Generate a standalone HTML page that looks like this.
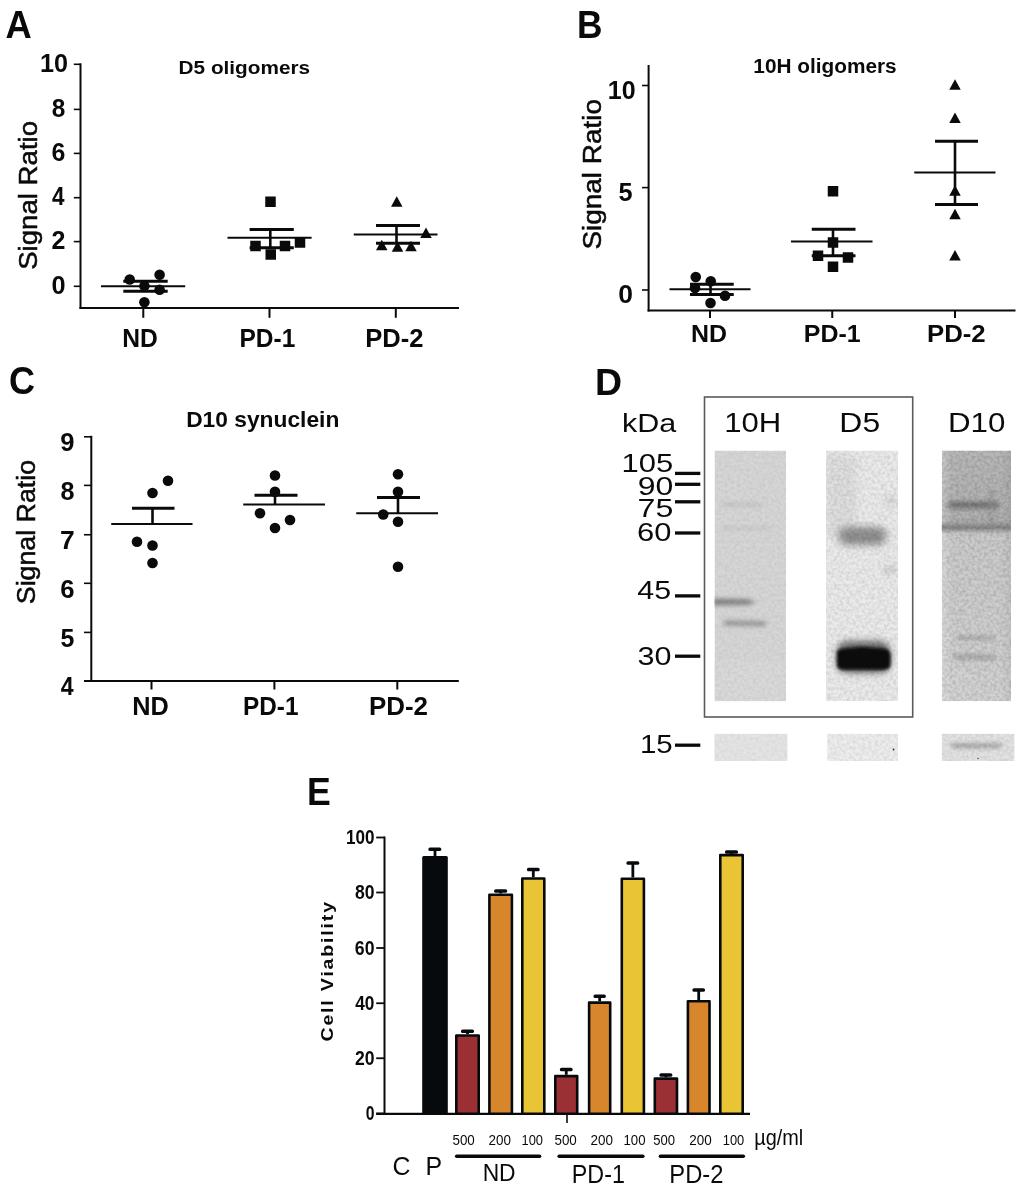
<!DOCTYPE html><html><head><meta charset="utf-8"><style>html,body{margin:0;padding:0;background:#fff;}svg{display:block;will-change:transform;} text{font-family:"Liberation Sans",sans-serif;}</style></head><body>
<svg width="1024" height="1191" viewBox="0 0 1024 1191">
<rect width="1024" height="1191" fill="#fff"/>
<text x="5.49" y="37.90" font-size="38.8" font-weight="bold" textLength="26.26" lengthAdjust="spacingAndGlyphs" fill="#0a0a0a" >A</text>
<text x="178.61" y="74.20" font-size="19.2" font-weight="bold" textLength="131.44" lengthAdjust="spacingAndGlyphs" fill="#0a0a0a" >D5 oligomers</text>
<text transform="translate(36.50,268.60) rotate(-90)" x="-1.25" y="0" font-size="26" font-weight="normal" textLength="148.91" lengthAdjust="spacingAndGlyphs" fill="#0a0a0a" stroke="#0a0a0a" stroke-width="0.5">Signal Ratio</text>
<line x1="80.5" y1="63.3" x2="80.5" y2="308.9" stroke="#0a0a0a" stroke-width="2" stroke-linecap="butt"/>
<line x1="73.8" y1="64.3" x2="80.5" y2="64.3" stroke="#0a0a0a" stroke-width="1.6" stroke-linecap="butt"/>
<text x="39.91" y="71.60" font-size="26" font-weight="bold" textLength="28.02" lengthAdjust="spacingAndGlyphs" fill="#0a0a0a" >10</text>
<line x1="73.8" y1="109.4" x2="80.5" y2="109.4" stroke="#0a0a0a" stroke-width="1.6" stroke-linecap="butt"/>
<text x="51.68" y="116.70" font-size="26" font-weight="bold" textLength="13.58" lengthAdjust="spacingAndGlyphs" fill="#0a0a0a" >8</text>
<line x1="73.8" y1="153.4" x2="80.5" y2="153.4" stroke="#0a0a0a" stroke-width="1.6" stroke-linecap="butt"/>
<text x="51.54" y="160.70" font-size="26" font-weight="bold" textLength="13.86" lengthAdjust="spacingAndGlyphs" fill="#0a0a0a" >6</text>
<line x1="73.8" y1="197.7" x2="80.5" y2="197.7" stroke="#0a0a0a" stroke-width="1.6" stroke-linecap="butt"/>
<text x="52.11" y="205.00" font-size="26" font-weight="bold" textLength="12.51" lengthAdjust="spacingAndGlyphs" fill="#0a0a0a" >4</text>
<line x1="73.8" y1="241.6" x2="80.5" y2="241.6" stroke="#0a0a0a" stroke-width="1.6" stroke-linecap="butt"/>
<text x="51.58" y="248.90" font-size="26" font-weight="bold" textLength="13.92" lengthAdjust="spacingAndGlyphs" fill="#0a0a0a" >2</text>
<line x1="73.8" y1="286.3" x2="80.5" y2="286.3" stroke="#0a0a0a" stroke-width="1.6" stroke-linecap="butt"/>
<text x="51.45" y="293.60" font-size="26" font-weight="bold" textLength="14.09" lengthAdjust="spacingAndGlyphs" fill="#0a0a0a" >0</text>
<line x1="79.5" y1="308" x2="459" y2="308" stroke="#0a0a0a" stroke-width="1.9" stroke-linecap="butt"/>
<line x1="143.3" y1="308" x2="143.3" y2="317.8" stroke="#0a0a0a" stroke-width="2" stroke-linecap="butt"/>
<line x1="269.5" y1="308" x2="269.5" y2="317.8" stroke="#0a0a0a" stroke-width="2" stroke-linecap="butt"/>
<line x1="395.8" y1="308" x2="395.8" y2="317.8" stroke="#0a0a0a" stroke-width="2" stroke-linecap="butt"/>
<text x="122.25" y="346.50" font-size="25" font-weight="bold" textLength="35.53" lengthAdjust="spacingAndGlyphs" fill="#0a0a0a" >ND</text>
<text x="239.56" y="346.50" font-size="25" font-weight="bold" textLength="55.72" lengthAdjust="spacingAndGlyphs" fill="#0a0a0a" >PD-1</text>
<text x="365.29" y="346.50" font-size="25" font-weight="bold" textLength="58.23" lengthAdjust="spacingAndGlyphs" fill="#0a0a0a" >PD-2</text>
<line x1="101" y1="286.3" x2="185.2" y2="286.3" stroke="#0a0a0a" stroke-width="2" stroke-linecap="butt"/>
<line x1="123.3" y1="281.2" x2="167.7" y2="281.2" stroke="#0a0a0a" stroke-width="3" stroke-linecap="butt"/>
<line x1="123.3" y1="291.2" x2="167.7" y2="291.2" stroke="#0a0a0a" stroke-width="3" stroke-linecap="butt"/>
<line x1="144.4" y1="281.2" x2="144.4" y2="291.2" stroke="#0a0a0a" stroke-width="2.6" stroke-linecap="butt"/>
<circle cx="129.7" cy="279.5" r="5.3" fill="#0a0a0a"/>
<circle cx="159.6" cy="274.7" r="5.3" fill="#0a0a0a"/>
<circle cx="144.4" cy="286.1" r="5.3" fill="#0a0a0a"/>
<circle cx="159.6" cy="289.8" r="5.3" fill="#0a0a0a"/>
<circle cx="144.4" cy="302.3" r="5.3" fill="#0a0a0a"/>
<line x1="227.5" y1="237.7" x2="311.6" y2="237.7" stroke="#0a0a0a" stroke-width="2" stroke-linecap="butt"/>
<line x1="249.6" y1="229.4" x2="293.8" y2="229.4" stroke="#0a0a0a" stroke-width="3" stroke-linecap="butt"/>
<line x1="249.6" y1="247.7" x2="293.8" y2="247.7" stroke="#0a0a0a" stroke-width="3" stroke-linecap="butt"/>
<line x1="270.3" y1="229.4" x2="270.3" y2="247.7" stroke="#0a0a0a" stroke-width="2.6" stroke-linecap="butt"/>
<rect x="265.25" y="196.50" width="10.5" height="10.5" fill="#0a0a0a"/>
<rect x="250.25" y="240.75" width="10.5" height="10.5" fill="#0a0a0a"/>
<rect x="265.50" y="249.25" width="10.5" height="10.5" fill="#0a0a0a"/>
<rect x="279.75" y="240.75" width="10.5" height="10.5" fill="#0a0a0a"/>
<rect x="294.75" y="237.25" width="10.5" height="10.5" fill="#0a0a0a"/>
<line x1="353.75" y1="234.5" x2="437.5" y2="234.5" stroke="#0a0a0a" stroke-width="2" stroke-linecap="butt"/>
<line x1="376" y1="225.5" x2="420" y2="225.5" stroke="#0a0a0a" stroke-width="3" stroke-linecap="butt"/>
<line x1="376" y1="243.25" x2="420" y2="243.25" stroke="#0a0a0a" stroke-width="3" stroke-linecap="butt"/>
<line x1="396.5" y1="225.5" x2="396.5" y2="243.25" stroke="#0a0a0a" stroke-width="2.6" stroke-linecap="butt"/>
<path d="M396.75,196.29 L402.50,206.64 L391.00,206.64Z" fill="#0a0a0a"/>
<path d="M426.00,227.54 L431.75,237.89 L420.25,237.89Z" fill="#0a0a0a"/>
<path d="M381.75,239.79 L387.50,250.14 L376.00,250.14Z" fill="#0a0a0a"/>
<path d="M397.50,241.29 L403.25,251.64 L391.75,251.64Z" fill="#0a0a0a"/>
<path d="M411.00,240.79 L416.75,251.14 L405.25,251.14Z" fill="#0a0a0a"/>
<text x="577.09" y="37.90" font-size="38.8" font-weight="bold" textLength="25.52" lengthAdjust="spacingAndGlyphs" fill="#0a0a0a" >B</text>
<text x="753.39" y="73.40" font-size="20.3" font-weight="bold" textLength="143.26" lengthAdjust="spacingAndGlyphs" fill="#0a0a0a" >10H oligomers</text>
<text transform="translate(600.50,248.30) rotate(-90)" x="-1.27" y="0" font-size="25.7" font-weight="normal" textLength="150.54" lengthAdjust="spacingAndGlyphs" fill="#0a0a0a" stroke="#0a0a0a" stroke-width="0.5">Signal Ratio</text>
<line x1="648.6" y1="65" x2="648.6" y2="311.5" stroke="#0a0a0a" stroke-width="2" stroke-linecap="butt"/>
<line x1="642" y1="85.5" x2="648.6" y2="85.5" stroke="#0a0a0a" stroke-width="1.6" stroke-linecap="butt"/>
<line x1="642" y1="187.6" x2="648.6" y2="187.6" stroke="#0a0a0a" stroke-width="1.6" stroke-linecap="butt"/>
<line x1="642" y1="290" x2="648.6" y2="290" stroke="#0a0a0a" stroke-width="1.6" stroke-linecap="butt"/>
<text x="607.83" y="98.70" font-size="26" font-weight="bold" textLength="27.80" lengthAdjust="spacingAndGlyphs" fill="#0a0a0a" >10</text>
<text x="618.52" y="200.60" font-size="26" font-weight="bold" textLength="14.08" lengthAdjust="spacingAndGlyphs" fill="#0a0a0a" >5</text>
<text x="618.25" y="303.10" font-size="26" font-weight="bold" textLength="14.73" lengthAdjust="spacingAndGlyphs" fill="#0a0a0a" >0</text>
<line x1="647.6" y1="310.5" x2="1015.5" y2="310.5" stroke="#0a0a0a" stroke-width="1.9" stroke-linecap="butt"/>
<line x1="710" y1="310.5" x2="710" y2="318" stroke="#0a0a0a" stroke-width="2" stroke-linecap="butt"/>
<line x1="832.25" y1="310.5" x2="832.25" y2="318" stroke="#0a0a0a" stroke-width="2" stroke-linecap="butt"/>
<line x1="955" y1="310.5" x2="955" y2="318" stroke="#0a0a0a" stroke-width="2" stroke-linecap="butt"/>
<text x="690.93" y="342.20" font-size="24.1" font-weight="bold" textLength="36.02" lengthAdjust="spacingAndGlyphs" fill="#0a0a0a" >ND</text>
<text x="803.83" y="342.20" font-size="24.1" font-weight="bold" textLength="56.86" lengthAdjust="spacingAndGlyphs" fill="#0a0a0a" >PD-1</text>
<text x="926.97" y="342.20" font-size="24.1" font-weight="bold" textLength="58.76" lengthAdjust="spacingAndGlyphs" fill="#0a0a0a" >PD-2</text>
<line x1="669.5" y1="289.25" x2="750.5" y2="289.25" stroke="#0a0a0a" stroke-width="2" stroke-linecap="butt"/>
<line x1="690" y1="284.25" x2="733.75" y2="284.25" stroke="#0a0a0a" stroke-width="3" stroke-linecap="butt"/>
<line x1="690" y1="294.5" x2="733.75" y2="294.5" stroke="#0a0a0a" stroke-width="3" stroke-linecap="butt"/>
<line x1="710.5" y1="284.25" x2="710.5" y2="294.5" stroke="#0a0a0a" stroke-width="2.6" stroke-linecap="butt"/>
<circle cx="695.75" cy="277" r="5.3" fill="#0a0a0a"/>
<circle cx="710.75" cy="281.25" r="5.3" fill="#0a0a0a"/>
<circle cx="695" cy="288" r="5.3" fill="#0a0a0a"/>
<circle cx="725" cy="295.75" r="5.3" fill="#0a0a0a"/>
<circle cx="710.5" cy="303" r="5.3" fill="#0a0a0a"/>
<line x1="791" y1="241.5" x2="872.5" y2="241.5" stroke="#0a0a0a" stroke-width="2" stroke-linecap="butt"/>
<line x1="811.75" y1="229.25" x2="855.5" y2="229.25" stroke="#0a0a0a" stroke-width="3" stroke-linecap="butt"/>
<line x1="811.75" y1="255.75" x2="855.5" y2="255.75" stroke="#0a0a0a" stroke-width="3" stroke-linecap="butt"/>
<line x1="833" y1="229.25" x2="833" y2="255.75" stroke="#0a0a0a" stroke-width="2.6" stroke-linecap="butt"/>
<rect x="827.75" y="186.00" width="10.5" height="10.5" fill="#0a0a0a"/>
<rect x="827.75" y="237.25" width="10.5" height="10.5" fill="#0a0a0a"/>
<rect x="812.75" y="250.50" width="10.5" height="10.5" fill="#0a0a0a"/>
<rect x="842.75" y="252.25" width="10.5" height="10.5" fill="#0a0a0a"/>
<rect x="827.75" y="261.50" width="10.5" height="10.5" fill="#0a0a0a"/>
<line x1="914.25" y1="172.5" x2="995.5" y2="172.5" stroke="#0a0a0a" stroke-width="2" stroke-linecap="butt"/>
<line x1="935" y1="141.25" x2="978" y2="141.25" stroke="#0a0a0a" stroke-width="3" stroke-linecap="butt"/>
<line x1="935" y1="204.5" x2="978" y2="204.5" stroke="#0a0a0a" stroke-width="3" stroke-linecap="butt"/>
<line x1="955" y1="141.25" x2="955" y2="204.5" stroke="#0a0a0a" stroke-width="2.6" stroke-linecap="butt"/>
<path d="M955.00,79.29 L960.75,89.64 L949.25,89.64Z" fill="#0a0a0a"/>
<path d="M955.00,112.54 L960.75,122.89 L949.25,122.89Z" fill="#0a0a0a"/>
<path d="M955.00,185.29 L960.75,195.64 L949.25,195.64Z" fill="#0a0a0a"/>
<path d="M955.00,208.79 L960.75,219.14 L949.25,219.14Z" fill="#0a0a0a"/>
<path d="M955.00,250.04 L960.75,260.39 L949.25,260.39Z" fill="#0a0a0a"/>
<text x="9.02" y="394.40" font-size="37.9" font-weight="bold" textLength="26.01" lengthAdjust="spacingAndGlyphs" fill="#0a0a0a" >C</text>
<text x="186.18" y="427.40" font-size="22.2" font-weight="bold" textLength="153.14" lengthAdjust="spacingAndGlyphs" fill="#0a0a0a" >D10 synuclein</text>
<text transform="translate(34.90,603.00) rotate(-90)" x="-1.21" y="0" font-size="25" font-weight="normal" textLength="144.24" lengthAdjust="spacingAndGlyphs" fill="#0a0a0a" stroke="#0a0a0a" stroke-width="0.5">Signal Ratio</text>
<line x1="91.3" y1="435.8" x2="91.3" y2="682" stroke="#0a0a0a" stroke-width="2" stroke-linecap="butt"/>
<line x1="84" y1="436.8" x2="91.3" y2="436.8" stroke="#0a0a0a" stroke-width="1.6" stroke-linecap="butt"/>
<text x="60.31" y="451.00" font-size="25.7" font-weight="bold" textLength="14.24" lengthAdjust="spacingAndGlyphs" fill="#0a0a0a" >9</text>
<line x1="84" y1="485.4" x2="91.3" y2="485.4" stroke="#0a0a0a" stroke-width="1.6" stroke-linecap="butt"/>
<text x="60.40" y="499.60" font-size="25.7" font-weight="bold" textLength="13.97" lengthAdjust="spacingAndGlyphs" fill="#0a0a0a" >8</text>
<line x1="84" y1="534.75" x2="91.3" y2="534.75" stroke="#0a0a0a" stroke-width="1.6" stroke-linecap="butt"/>
<text x="60.06" y="548.95" font-size="25.7" font-weight="bold" textLength="14.70" lengthAdjust="spacingAndGlyphs" fill="#0a0a0a" >7</text>
<line x1="84" y1="583.3" x2="91.3" y2="583.3" stroke="#0a0a0a" stroke-width="1.6" stroke-linecap="butt"/>
<text x="60.26" y="597.50" font-size="25.7" font-weight="bold" textLength="14.27" lengthAdjust="spacingAndGlyphs" fill="#0a0a0a" >6</text>
<line x1="84" y1="632.4" x2="91.3" y2="632.4" stroke="#0a0a0a" stroke-width="1.6" stroke-linecap="butt"/>
<text x="60.43" y="646.60" font-size="25.7" font-weight="bold" textLength="13.86" lengthAdjust="spacingAndGlyphs" fill="#0a0a0a" >5</text>
<line x1="84" y1="681" x2="91.3" y2="681" stroke="#0a0a0a" stroke-width="1.6" stroke-linecap="butt"/>
<text x="60.85" y="695.20" font-size="25.7" font-weight="bold" textLength="12.87" lengthAdjust="spacingAndGlyphs" fill="#0a0a0a" >4</text>
<line x1="84" y1="681" x2="458.8" y2="681" stroke="#0a0a0a" stroke-width="1.9" stroke-linecap="butt"/>
<line x1="151.5" y1="681" x2="151.5" y2="689.5" stroke="#0a0a0a" stroke-width="2" stroke-linecap="butt"/>
<line x1="274.4" y1="681" x2="274.4" y2="689.5" stroke="#0a0a0a" stroke-width="2" stroke-linecap="butt"/>
<line x1="397.3" y1="681" x2="397.3" y2="689.5" stroke="#0a0a0a" stroke-width="2" stroke-linecap="butt"/>
<text x="132.31" y="715.30" font-size="25.9" font-weight="bold" textLength="36.56" lengthAdjust="spacingAndGlyphs" fill="#0a0a0a" >ND</text>
<text x="243.07" y="715.30" font-size="25.9" font-weight="bold" textLength="55.40" lengthAdjust="spacingAndGlyphs" fill="#0a0a0a" >PD-1</text>
<text x="368.97" y="715.30" font-size="25.9" font-weight="bold" textLength="59.07" lengthAdjust="spacingAndGlyphs" fill="#0a0a0a" >PD-2</text>
<line x1="111.25" y1="524" x2="192.5" y2="524" stroke="#0a0a0a" stroke-width="2" stroke-linecap="butt"/>
<line x1="132" y1="508.25" x2="174.5" y2="508.25" stroke="#0a0a0a" stroke-width="3" stroke-linecap="butt"/>
<line x1="152.5" y1="508.25" x2="152.5" y2="524" stroke="#0a0a0a" stroke-width="2.6" stroke-linecap="butt"/>
<circle cx="168" cy="480.75" r="5.3" fill="#0a0a0a"/>
<circle cx="152.5" cy="493" r="5.3" fill="#0a0a0a"/>
<circle cx="137" cy="541.75" r="5.3" fill="#0a0a0a"/>
<circle cx="152.5" cy="545.5" r="5.3" fill="#0a0a0a"/>
<circle cx="152.5" cy="563" r="5.3" fill="#0a0a0a"/>
<line x1="243.25" y1="504.5" x2="325" y2="504.5" stroke="#0a0a0a" stroke-width="2" stroke-linecap="butt"/>
<line x1="254.5" y1="495.25" x2="297.5" y2="495.25" stroke="#0a0a0a" stroke-width="3" stroke-linecap="butt"/>
<line x1="275" y1="495.25" x2="275" y2="504.5" stroke="#0a0a0a" stroke-width="2.6" stroke-linecap="butt"/>
<circle cx="275" cy="475.5" r="5.3" fill="#0a0a0a"/>
<circle cx="275" cy="491.75" r="5.3" fill="#0a0a0a"/>
<circle cx="260" cy="513.25" r="5.3" fill="#0a0a0a"/>
<circle cx="290" cy="520" r="5.3" fill="#0a0a0a"/>
<circle cx="275" cy="528" r="5.3" fill="#0a0a0a"/>
<line x1="356.25" y1="513.25" x2="438" y2="513.25" stroke="#0a0a0a" stroke-width="2" stroke-linecap="butt"/>
<line x1="377" y1="497.5" x2="420" y2="497.5" stroke="#0a0a0a" stroke-width="3" stroke-linecap="butt"/>
<line x1="398" y1="497.5" x2="398" y2="513.25" stroke="#0a0a0a" stroke-width="2.6" stroke-linecap="butt"/>
<circle cx="398" cy="474.25" r="5.3" fill="#0a0a0a"/>
<circle cx="398" cy="491.75" r="5.3" fill="#0a0a0a"/>
<circle cx="383.25" cy="514.5" r="5.3" fill="#0a0a0a"/>
<circle cx="398" cy="521.75" r="5.3" fill="#0a0a0a"/>
<circle cx="398" cy="566.75" r="5.3" fill="#0a0a0a"/>
<text x="594.99" y="395.00" font-size="37" font-weight="bold" textLength="27.08" lengthAdjust="spacingAndGlyphs" fill="#0a0a0a" >D</text>
<rect x="704.5" y="397" width="208.2" height="320" fill="none" stroke="#5a5a5a" stroke-width="1.6"/>
<text x="621.94" y="432.20" font-size="26" font-weight="normal" textLength="54.26" lengthAdjust="spacingAndGlyphs" fill="#0a0a0a" >kDa</text>
<text x="724.23" y="432.40" font-size="27" font-weight="normal" textLength="57.00" lengthAdjust="spacingAndGlyphs" fill="#0a0a0a" >10H</text>
<text x="839.38" y="432.20" font-size="27" font-weight="normal" textLength="40.75" lengthAdjust="spacingAndGlyphs" fill="#0a0a0a" >D5</text>
<text x="947.93" y="432.20" font-size="27" font-weight="normal" textLength="57.39" lengthAdjust="spacingAndGlyphs" fill="#0a0a0a" >D10</text>
<text x="621.64" y="472.00" font-size="26.5" font-weight="normal" textLength="51.66" lengthAdjust="spacingAndGlyphs" fill="#0a0a0a" >105</text>
<line x1="675" y1="473.4" x2="700.3" y2="473.4" stroke="#0a0a0a" stroke-width="3.3" stroke-linecap="butt"/>
<text x="637.70" y="494.60" font-size="26.5" font-weight="normal" textLength="35.55" lengthAdjust="spacingAndGlyphs" fill="#0a0a0a" >90</text>
<line x1="675" y1="484.3" x2="700.3" y2="484.3" stroke="#0a0a0a" stroke-width="3.3" stroke-linecap="butt"/>
<text x="637.55" y="516.80" font-size="26.5" font-weight="normal" textLength="35.80" lengthAdjust="spacingAndGlyphs" fill="#0a0a0a" >75</text>
<line x1="675" y1="501.8" x2="700.3" y2="501.8" stroke="#0a0a0a" stroke-width="3.3" stroke-linecap="butt"/>
<text x="637.13" y="541.40" font-size="26.5" font-weight="normal" textLength="34.38" lengthAdjust="spacingAndGlyphs" fill="#0a0a0a" >60</text>
<line x1="675" y1="533" x2="700.3" y2="533" stroke="#0a0a0a" stroke-width="3.3" stroke-linecap="butt"/>
<text x="637.30" y="599.40" font-size="26.5" font-weight="normal" textLength="33.77" lengthAdjust="spacingAndGlyphs" fill="#0a0a0a" >45</text>
<line x1="675" y1="595.9" x2="700.3" y2="595.9" stroke="#0a0a0a" stroke-width="3.3" stroke-linecap="butt"/>
<text x="637.54" y="665.10" font-size="26.5" font-weight="normal" textLength="33.96" lengthAdjust="spacingAndGlyphs" fill="#0a0a0a" >30</text>
<line x1="675" y1="656.2" x2="700.3" y2="656.2" stroke="#0a0a0a" stroke-width="3.3" stroke-linecap="butt"/>
<text x="639.96" y="753.00" font-size="26.5" font-weight="normal" textLength="32.78" lengthAdjust="spacingAndGlyphs" fill="#0a0a0a" >15</text>
<line x1="675" y1="745.2" x2="700.3" y2="745.2" stroke="#0a0a0a" stroke-width="3.3" stroke-linecap="butt"/>
<defs>
<filter id="grain" x="0" y="0" width="100%" height="100%"><feTurbulence type="fractalNoise" baseFrequency="0.32" numOctaves="2" seed="7"/><feColorMatrix type="matrix" values="0 0 0 0 0  0 0 0 0 0  0 0 0 0 0  0.5 0 0 0 -0.17"/><feGaussianBlur stdDeviation="0.5"/><feComposite in2="SourceGraphic" operator="in"/></filter>
<filter id="grain2" x="0" y="0" width="100%" height="100%"><feTurbulence type="fractalNoise" baseFrequency="0.08" numOctaves="2" seed="11"/><feColorMatrix type="matrix" values="0 0 0 0 0  0 0 0 0 0  0 0 0 0 0  0.5 0 0 0 -0.2"/><feComposite in2="SourceGraphic" operator="in"/></filter>
<filter id="bb" x="-50%" y="-200%" width="200%" height="500%"><feGaussianBlur stdDeviation="2.5 2.2"/></filter>
<filter id="bc" x="-50%" y="-100%" width="200%" height="300%"><feGaussianBlur stdDeviation="4 3.5"/></filter>
<filter id="bd" x="-50%" y="-100%" width="200%" height="300%"><feGaussianBlur stdDeviation="1.6"/></filter>
<filter id="be" x="-50%" y="-100%" width="200%" height="300%"><feGaussianBlur stdDeviation="3.5"/></filter>
<linearGradient id="g3" x1="0" y1="0" x2="0" y2="1"><stop offset="0" stop-color="#b8b8b8"/><stop offset="0.25" stop-color="#b2b2b2"/><stop offset="0.31" stop-color="#ababab"/><stop offset="0.312" stop-color="#cbcbcb"/><stop offset="0.8" stop-color="#d0d0d0"/><stop offset="1" stop-color="#d3d3d3"/></linearGradient>
<linearGradient id="g3h" x1="0" y1="0" x2="1" y2="0"><stop offset="0" stop-color="#fff" stop-opacity="0.25"/><stop offset="0.15" stop-color="#fff" stop-opacity="0"/><stop offset="0.85" stop-color="#000" stop-opacity="0"/><stop offset="1" stop-color="#000" stop-opacity="0.05"/></linearGradient>
<clipPath id="c1"><rect x="714.5" y="450.5" width="71.5" height="250.8"/></clipPath>
<clipPath id="c2"><rect x="826" y="450.5" width="72.2" height="250.8"/></clipPath>
<clipPath id="c3"><rect x="941.8" y="450.5" width="69.2" height="250.8"/></clipPath>
</defs>
<g clip-path="url(#c1)">
<rect x="714.5" y="450.5" width="71.5" height="250.8" fill="#d6d6d6"/>
<rect x="714.5" y="662" width="71.5" height="40" fill="#dadada" filter="url(#be)" opacity="0.7"/>
<g filter="url(#bb)"><rect x="722" y="503" width="40" height="3" fill="#bdbdbd"/><rect x="722" y="527" width="50" height="3" fill="#c6c6c6"/><path d="M712,598.5 L748,599 L756,602 L748,605 L712,605.5Z" fill="#858585"/><path d="M724,620 L766,621 L766,626.5 L724,626Z" fill="#9c9c9c"/></g>
<rect x="714.5" y="450.5" width="71.5" height="250.8" fill="#000" filter="url(#grain)" opacity="0.25"/>
</g>
<g clip-path="url(#c2)">
<rect x="826" y="450.5" width="72.2" height="250.8" fill="#ebebeb"/>
<rect x="826" y="455" width="30" height="80" fill="#d6d6d6" filter="url(#be)" opacity="0.6"/>
<g filter="url(#bc)"><rect x="839" y="527" width="47" height="18" rx="7" fill="#8f8f8f"/></g>
<g filter="url(#be)"><rect x="886" y="498" width="10" height="6" fill="#c8c8c8"/><rect x="884" y="566" width="12" height="8" fill="#cccccc"/></g>
<g filter="url(#be)"><rect x="837" y="641" width="53" height="32" rx="10" fill="#6a6a6a"/></g>
<g filter="url(#bd)"><path d="M837,652 Q838,648.5 845,648.5 L855,647.5 Q862,645.8 870,647.5 L884,648.5 Q890.5,649 890.5,656 L890.5,664 Q890.5,669.5 884,669.8 L843,669.8 Q837,669.8 837,664Z" fill="#070707"/></g>
<rect x="826" y="450.5" width="72.2" height="250.8" fill="#000" filter="url(#grain)" opacity="0.45"/>
</g>
<g clip-path="url(#c3)">
<rect x="941.8" y="450.5" width="69.2" height="250.8" fill="url(#g3)"/>
<rect x="941.8" y="450.5" width="69.2" height="250.8" fill="url(#g3h)"/>
<g filter="url(#bb)"><rect x="948" y="501.5" width="51" height="7" rx="3" fill="#777"/><rect x="938" y="525" width="76" height="5.5" fill="#808080"/><rect x="989" y="490" width="4.5" height="38" fill="#8f8f8f" opacity="0.6"/><rect x="957" y="636" width="38" height="4" fill="#a9a9a9"/><rect x="954" y="654.5" width="42" height="5" fill="#a6a6a6"/><rect x="944" y="668" width="25" height="30" fill="#d6d6d6" opacity="0.6"/></g>
<rect x="941.8" y="450.5" width="69.2" height="250.8" fill="#000" filter="url(#grain)" opacity="0.6"/>
</g>
<rect x="714.4" y="733.8" width="73" height="27.2" fill="#e4e4e4"/>
<rect x="827.3" y="733.8" width="70.7" height="27.2" fill="#ededed"/>
<rect x="941.8" y="733.8" width="72.6" height="27.2" fill="#e3e3e3"/>
<g filter="url(#bb)"><rect x="952" y="743.5" width="49" height="4.5" fill="#a0a0a0"/></g>
<rect x="714.4" y="733.8" width="73" height="27.2" fill="#000" filter="url(#grain)" opacity="0.2"/>
<rect x="827.3" y="733.8" width="70.7" height="27.2" fill="#000" filter="url(#grain)" opacity="0.35"/>
<rect x="941.8" y="733.8" width="72.6" height="27.2" fill="#000" filter="url(#grain)" opacity="0.4"/>
<circle cx="893.5" cy="749.5" r="0.9" fill="#333"/>
<circle cx="978" cy="758.5" r="0.8" fill="#555"/>
<text x="307.12" y="805.00" font-size="39" font-weight="bold" textLength="23.78" lengthAdjust="spacingAndGlyphs" fill="#0a0a0a" >E</text>
<text transform="translate(332.9,1040.7) rotate(-90) scale(1.17,1)" x="-0.68" y="0" font-size="16.7" font-weight="bold" textLength="119.24" lengthAdjust="spacing" fill="#0a0a0a">Cell Viability</text>
<line x1="384.5" y1="836.5" x2="384.5" y2="1114.5" stroke="#0a0a0a" stroke-width="2" stroke-linecap="butt"/>
<line x1="376.2" y1="837.5" x2="384.5" y2="837.5" stroke="#0a0a0a" stroke-width="1.8" stroke-linecap="butt"/>
<text x="345.92" y="844.30" font-size="19.6" font-weight="bold" textLength="28.53" lengthAdjust="spacingAndGlyphs" fill="#0a0a0a" >100</text>
<line x1="376.2" y1="892.5" x2="384.5" y2="892.5" stroke="#0a0a0a" stroke-width="1.8" stroke-linecap="butt"/>
<text x="354.94" y="899.30" font-size="19.6" font-weight="bold" textLength="19.53" lengthAdjust="spacingAndGlyphs" fill="#0a0a0a" >80</text>
<line x1="376.2" y1="948" x2="384.5" y2="948" stroke="#0a0a0a" stroke-width="1.8" stroke-linecap="butt"/>
<text x="354.85" y="954.80" font-size="19.6" font-weight="bold" textLength="19.62" lengthAdjust="spacingAndGlyphs" fill="#0a0a0a" >60</text>
<line x1="376.2" y1="1003.25" x2="384.5" y2="1003.25" stroke="#0a0a0a" stroke-width="1.8" stroke-linecap="butt"/>
<text x="355.24" y="1010.05" font-size="19.6" font-weight="bold" textLength="19.22" lengthAdjust="spacingAndGlyphs" fill="#0a0a0a" >40</text>
<line x1="376.2" y1="1058.25" x2="384.5" y2="1058.25" stroke="#0a0a0a" stroke-width="1.8" stroke-linecap="butt"/>
<text x="354.89" y="1065.05" font-size="19.6" font-weight="bold" textLength="19.58" lengthAdjust="spacingAndGlyphs" fill="#0a0a0a" >20</text>
<line x1="376.2" y1="1113.5" x2="384.5" y2="1113.5" stroke="#0a0a0a" stroke-width="1.8" stroke-linecap="butt"/>
<text x="365.63" y="1120.30" font-size="19.6" font-weight="bold" textLength="8.77" lengthAdjust="spacingAndGlyphs" fill="#0a0a0a" >0</text>
<line x1="376.2" y1="1113.8" x2="750" y2="1113.8" stroke="#0a0a0a" stroke-width="2.2" stroke-linecap="butt"/>
<rect x="422.2" y="856.1" width="25.6" height="257.70" rx="1.5" fill="#060a0c"/>
<line x1="435" y1="849" x2="435" y2="857" stroke="#060a0c" stroke-width="2.8" stroke-linecap="butt"/>
<rect x="428.4" y="847.5" width="12.9" height="3.5" rx="1.6" fill="#060a0c"/>
<rect x="456.30" y="1035.50" width="22.40" height="78.30" fill="#9b3034" stroke="#060a0c" stroke-width="2.6" stroke-linejoin="round"/>
<line x1="467.5" y1="1031.2" x2="467.5" y2="1034.2" stroke="#060a0c" stroke-width="2.8" stroke-linecap="butt"/>
<rect x="461.00" y="1029.40" width="13.00" height="3.6" rx="1.6" fill="#060a0c"/>
<rect x="489.40" y="894.80" width="22.50" height="219.00" fill="#d8862c" stroke="#060a0c" stroke-width="2.6" stroke-linejoin="round"/>
<line x1="500.65000000000003" y1="891" x2="500.65000000000003" y2="893.5" stroke="#060a0c" stroke-width="2.8" stroke-linecap="butt"/>
<rect x="494.12" y="889.20" width="13.05" height="3.6" rx="1.6" fill="#060a0c"/>
<rect x="522.30" y="878.50" width="22.00" height="235.30" fill="#e9c535" stroke="#060a0c" stroke-width="2.6" stroke-linejoin="round"/>
<line x1="533.3" y1="869.5" x2="533.3" y2="877.2" stroke="#060a0c" stroke-width="2.8" stroke-linecap="butt"/>
<rect x="526.90" y="867.70" width="12.79" height="3.6" rx="1.6" fill="#060a0c"/>
<rect x="555.30" y="1076.10" width="21.90" height="37.70" fill="#9b3034" stroke="#060a0c" stroke-width="2.6" stroke-linejoin="round"/>
<line x1="566.25" y1="1069.5" x2="566.25" y2="1074.8" stroke="#060a0c" stroke-width="2.8" stroke-linecap="butt"/>
<rect x="559.88" y="1067.70" width="12.74" height="3.6" rx="1.6" fill="#060a0c"/>
<rect x="589.10" y="1002.60" width="21.10" height="111.20" fill="#d8862c" stroke="#060a0c" stroke-width="2.6" stroke-linejoin="round"/>
<line x1="599.65" y1="996.3" x2="599.65" y2="1001.3" stroke="#060a0c" stroke-width="2.8" stroke-linecap="butt"/>
<rect x="593.49" y="994.50" width="12.32" height="3.6" rx="1.6" fill="#060a0c"/>
<rect x="621.80" y="878.80" width="22.10" height="235.00" fill="#e9c535" stroke="#060a0c" stroke-width="2.6" stroke-linejoin="round"/>
<line x1="632.85" y1="863" x2="632.85" y2="877.5" stroke="#060a0c" stroke-width="2.8" stroke-linecap="butt"/>
<rect x="626.43" y="861.20" width="12.84" height="3.6" rx="1.6" fill="#060a0c"/>
<rect x="654.80" y="1078.60" width="22.20" height="35.20" fill="#9b3034" stroke="#060a0c" stroke-width="2.6" stroke-linejoin="round"/>
<line x1="665.9" y1="1075" x2="665.9" y2="1077.3" stroke="#060a0c" stroke-width="2.8" stroke-linecap="butt"/>
<rect x="659.45" y="1073.20" width="12.90" height="3.6" rx="1.6" fill="#060a0c"/>
<rect x="687.90" y="1001.30" width="21.60" height="112.50" fill="#d8862c" stroke="#060a0c" stroke-width="2.6" stroke-linejoin="round"/>
<line x1="698.7" y1="990" x2="698.7" y2="1000" stroke="#060a0c" stroke-width="2.8" stroke-linecap="butt"/>
<rect x="692.41" y="988.20" width="12.58" height="3.6" rx="1.6" fill="#060a0c"/>
<rect x="720.30" y="855.10" width="22.40" height="258.70" fill="#e9c535" stroke="#060a0c" stroke-width="2.6" stroke-linejoin="round"/>
<line x1="731.5" y1="852" x2="731.5" y2="853.8" stroke="#060a0c" stroke-width="2.8" stroke-linecap="butt"/>
<rect x="725.00" y="850.20" width="13.00" height="3.6" rx="1.6" fill="#060a0c"/>
<line x1="567" y1="1114" x2="567" y2="1123" stroke="#0a0a0a" stroke-width="1.6" stroke-linecap="butt"/>
<text x="452.46" y="1145.00" font-size="15.2" font-weight="normal" textLength="22.31" lengthAdjust="spacingAndGlyphs" fill="#0a0a0a" >500</text>
<text x="488.57" y="1145.00" font-size="15.2" font-weight="normal" textLength="22.45" lengthAdjust="spacingAndGlyphs" fill="#0a0a0a" >200</text>
<text x="521.52" y="1145.00" font-size="15.2" font-weight="normal" textLength="21.48" lengthAdjust="spacingAndGlyphs" fill="#0a0a0a" >100</text>
<text x="554.46" y="1145.00" font-size="15.2" font-weight="normal" textLength="22.31" lengthAdjust="spacingAndGlyphs" fill="#0a0a0a" >500</text>
<text x="590.57" y="1145.00" font-size="15.2" font-weight="normal" textLength="22.45" lengthAdjust="spacingAndGlyphs" fill="#0a0a0a" >200</text>
<text x="623.49" y="1145.00" font-size="15.2" font-weight="normal" textLength="22.02" lengthAdjust="spacingAndGlyphs" fill="#0a0a0a" >100</text>
<text x="653.23" y="1145.00" font-size="15.2" font-weight="normal" textLength="21.78" lengthAdjust="spacingAndGlyphs" fill="#0a0a0a" >500</text>
<text x="689.32" y="1145.00" font-size="15.2" font-weight="normal" textLength="22.45" lengthAdjust="spacingAndGlyphs" fill="#0a0a0a" >200</text>
<text x="722.77" y="1145.00" font-size="15.2" font-weight="normal" textLength="21.48" lengthAdjust="spacingAndGlyphs" fill="#0a0a0a" >100</text>
<text x="754.24" y="1144.50" font-size="22" font-weight="normal" textLength="48.99" lengthAdjust="spacingAndGlyphs" fill="#0a0a0a" >µg/ml</text>
<line x1="456.7" y1="1156.25" x2="539.55" y2="1156.25" stroke="#060a0c" stroke-width="3.6" stroke-linecap="round"/>
<line x1="559.2" y1="1156.25" x2="642.8" y2="1156.25" stroke="#060a0c" stroke-width="3.6" stroke-linecap="round"/>
<line x1="660.45" y1="1156.25" x2="743.3" y2="1156.25" stroke="#060a0c" stroke-width="3.6" stroke-linecap="round"/>
<text x="482.63" y="1181.25" font-size="24.5" font-weight="normal" textLength="32.96" lengthAdjust="spacingAndGlyphs" fill="#0a0a0a" >ND</text>
<text x="571.84" y="1182.50" font-size="26" font-weight="normal" textLength="53.05" lengthAdjust="spacingAndGlyphs" fill="#0a0a0a" >PD-1</text>
<text x="669.30" y="1182.50" font-size="26" font-weight="normal" textLength="54.09" lengthAdjust="spacingAndGlyphs" fill="#0a0a0a" >PD-2</text>
<text x="392.49" y="1175.00" font-size="25" font-weight="normal" textLength="17.96" lengthAdjust="spacingAndGlyphs" fill="#0a0a0a" >C</text>
<text x="425.46" y="1175.00" font-size="25" font-weight="normal" textLength="16.61" lengthAdjust="spacingAndGlyphs" fill="#0a0a0a" >P</text>
</svg></body></html>
